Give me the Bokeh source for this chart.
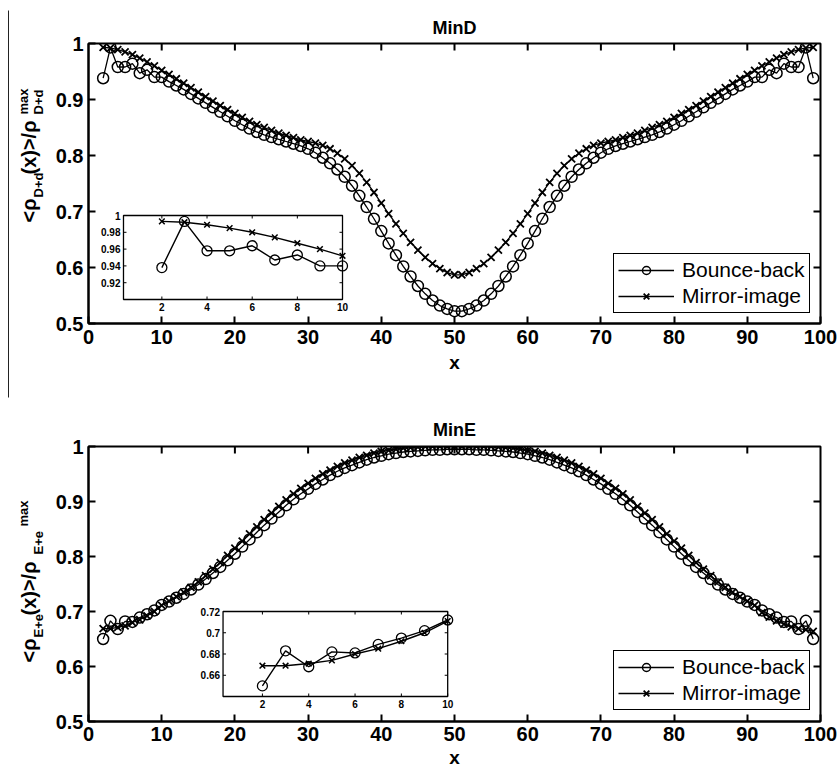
import math
from bokeh.plotting import figure
from bokeh.models import Range1d, FixedTicker
from bokeh.layouts import column, row
from bokeh.embed import file_html
from bokeh.resources import INLINE
from bokeh.core.properties import value

FONT = "Liberation Sans"

# ---------------- data ----------------
x_pos = list(range(2, 100))

mind_bounce = [
    0.938, 0.993, 0.958, 0.958, 0.964, 0.947, 0.953, 0.940, 0.940, 0.932,
    0.925, 0.918, 0.910, 0.902, 0.894, 0.886, 0.878, 0.870, 0.862, 0.855,
    0.848, 0.842, 0.837, 0.833, 0.829, 0.825, 0.821, 0.817, 0.812, 0.805,
    0.796, 0.786, 0.775, 0.762, 0.746, 0.728, 0.708, 0.687, 0.665, 0.643,
    0.622, 0.602, 0.584, 0.567, 0.553, 0.541, 0.532, 0.526, 0.522, 0.522,
    0.526, 0.532, 0.541, 0.553, 0.567, 0.584, 0.602, 0.622, 0.643, 0.665,
    0.687, 0.708, 0.728, 0.746, 0.762, 0.775, 0.786, 0.796, 0.805, 0.812,
    0.817, 0.821, 0.825, 0.829, 0.833, 0.837, 0.842, 0.848, 0.855, 0.862,
    0.870, 0.878, 0.886, 0.894, 0.902, 0.910, 0.918, 0.925, 0.932, 0.940,
    0.940, 0.953, 0.947, 0.964, 0.958, 0.958, 0.993, 0.938,
]
mind_mirror = [
    0.993, 0.992, 0.989, 0.985, 0.980, 0.974, 0.967, 0.960, 0.952, 0.945,
    0.937, 0.929, 0.921, 0.913, 0.905, 0.897, 0.889, 0.882, 0.875, 0.868,
    0.861, 0.855, 0.850, 0.845, 0.840, 0.836, 0.832, 0.828, 0.825, 0.822,
    0.818, 0.812, 0.804, 0.794, 0.782, 0.768, 0.752, 0.734, 0.715, 0.696,
    0.678, 0.661, 0.645, 0.631, 0.618, 0.607, 0.598, 0.591, 0.587, 0.587,
    0.591, 0.598, 0.607, 0.618, 0.631, 0.645, 0.661, 0.678, 0.696, 0.715,
    0.734, 0.752, 0.768, 0.782, 0.794, 0.804, 0.812, 0.818, 0.822, 0.825,
    0.828, 0.832, 0.836, 0.840, 0.845, 0.850, 0.855, 0.861, 0.868, 0.875,
    0.882, 0.889, 0.897, 0.905, 0.913, 0.921, 0.929, 0.937, 0.945, 0.952,
    0.960, 0.967, 0.974, 0.980, 0.985, 0.989, 0.992, 0.993,
]
mine_bounce = [
    0.650, 0.683, 0.668, 0.682, 0.681, 0.689, 0.695, 0.702, 0.712, 0.718,
    0.725, 0.732, 0.740, 0.749, 0.759, 0.770, 0.781, 0.793, 0.805, 0.818,
    0.831, 0.844, 0.857, 0.869, 0.881, 0.893, 0.904, 0.914, 0.923, 0.932,
    0.940, 0.948, 0.955, 0.961, 0.966, 0.971, 0.976, 0.980, 0.983, 0.986,
    0.988, 0.990, 0.991, 0.992, 0.993, 0.994, 0.994, 0.995, 0.995, 0.995,
    0.995, 0.994, 0.994, 0.993, 0.992, 0.991, 0.990, 0.988, 0.986, 0.983,
    0.980, 0.976, 0.971, 0.966, 0.961, 0.955, 0.948, 0.940, 0.932, 0.923,
    0.914, 0.904, 0.893, 0.881, 0.869, 0.857, 0.844, 0.831, 0.818, 0.805,
    0.793, 0.781, 0.770, 0.759, 0.749, 0.740, 0.732, 0.725, 0.718, 0.712,
    0.702, 0.695, 0.689, 0.681, 0.682, 0.668, 0.683, 0.650,
]
mine_mirror = [
    0.669, 0.669, 0.671, 0.674, 0.680, 0.685, 0.692, 0.700, 0.711, 0.719,
    0.727, 0.735, 0.744, 0.754, 0.765, 0.777, 0.789, 0.802, 0.815, 0.828,
    0.841, 0.854, 0.867, 0.879, 0.891, 0.903, 0.914, 0.924, 0.933, 0.942,
    0.950, 0.957, 0.964, 0.970, 0.975, 0.980, 0.984, 0.988, 0.991, 0.993,
    0.995, 0.997, 0.998, 0.999, 1.000, 1.000, 1.000, 1.000, 1.000, 1.000,
    1.000, 1.000, 1.000, 1.000, 0.999, 0.998, 0.997, 0.995, 0.993, 0.991,
    0.988, 0.984, 0.980, 0.975, 0.970, 0.964, 0.957, 0.950, 0.942, 0.933,
    0.924, 0.914, 0.903, 0.891, 0.879, 0.867, 0.854, 0.841, 0.828, 0.815,
    0.802, 0.789, 0.777, 0.765, 0.754, 0.744, 0.735, 0.727, 0.719, 0.711,
    0.698, 0.690, 0.683, 0.677, 0.672, 0.669, 0.667, 0.664,
]

inset_x = [2, 3, 4, 5, 6, 7, 8, 9, 10]
mind_inset_bounce = [0.938, 0.993, 0.958, 0.958, 0.964, 0.947, 0.953, 0.940, 0.940]
mind_inset_mirror = [0.993, 0.992, 0.989, 0.985, 0.980, 0.974, 0.967, 0.960, 0.952]
mine_inset_bounce = [0.650, 0.683, 0.668, 0.682, 0.681, 0.689, 0.695, 0.702, 0.712]
mine_inset_mirror = [0.669, 0.669, 0.671, 0.674, 0.680, 0.685, 0.692, 0.700, 0.711]

main_xticks = [0, 10, 20, 30, 40, 50, 60, 70, 80, 90, 100]
main_xlabels = ["0", "10", "20", "30", "40", "50", "60", "70", "80", "90", "100"]
main_yticks = [0.5, 0.6, 0.7, 0.8, 0.9, 1.0]
main_ylabels = ["0.5", "0.6", "0.7", "0.8", "0.9", "1"]

inset_xticks = [2, 4, 6, 8, 10]
inset_xlabels = ["2", "4", "6", "8", "10"]
mind_inset_yticks = [0.92, 0.94, 0.96, 0.98, 1.0]
mind_inset_ylabels = ["0.92", "0.94", "0.96", "0.98", "1"]
mine_inset_yticks = [0.66, 0.68, 0.70, 0.72]
mine_inset_ylabels = ["0.66", "0.68", "0.7", "0.72"]

series_names = ["Bounce-back", "Mirror-image"]
titles = ["MinD", "MinE"]
ylabel_subs = ["D+d", "E+e"]

GUTTER_W = 50
TOTAL_H = 771
PANEL_W = 838 - GUTTER_W
LEFT_B = 88 - GUTTER_W
FRAME_W = 732


def make_panel(title, bb, mm, ibb, imm, ixlim, iylim, iyticks, iylabels,
               ibox, H, top_b, bot_b, title_standoff, tick_standoff,
               xlab_standoff, legend_loc):
    p = figure(width=PANEL_W, height=H, output_backend="svg", toolbar_location=None,
               x_range=Range1d(0, 100), y_range=Range1d(0.5, 1.0),
               min_border_left=LEFT_B, min_border_right=PANEL_W - LEFT_B - FRAME_W,
               min_border_top=top_b, min_border_bottom=bot_b,
               background_fill_color="white", border_fill_color="white",
               title=title)
    p.title.align = "center"
    p.title.text_font = FONT
    p.title.text_font_size = "18px"
    p.title.text_font_style = "bold"
    p.title.text_color = "black"
    p.title.standoff = title_standoff

    p.grid.visible = False
    p.outline_line_color = "black"
    p.outline_line_width = 2
    p.outline_line_alpha = 1.0

    p.xaxis.ticker = FixedTicker(ticks=main_xticks)
    p.xaxis.major_label_overrides = dict(zip(main_xticks, main_xlabels))
    p.yaxis.ticker = FixedTicker(ticks=main_yticks)
    p.yaxis.major_label_overrides = dict(zip(main_yticks, main_ylabels))
    for ax in (p.xaxis[0], p.yaxis[0]):
        ax.major_tick_in = 7
        ax.major_tick_out = 0
        ax.minor_tick_line_color = None
        ax.axis_line_width = 2
        ax.major_tick_line_width = 2
        ax.major_label_text_font = FONT
        ax.major_label_text_font_size = "20px"
        ax.major_label_text_font_style = "bold"
        ax.major_label_text_color = "black"
    p.xaxis.major_label_standoff = tick_standoff
    p.yaxis.major_label_standoff = 5
    p.xaxis.axis_label = "x"
    p.xaxis.axis_label_text_font = FONT
    p.xaxis.axis_label_text_font_size = "19px"
    p.xaxis.axis_label_text_font_style = "bold"
    p.xaxis.axis_label_text_color = "black"
    p.xaxis.axis_label_standoff = xlab_standoff

    # ticks on top and right edges (box on)
    p.ray(x=main_xticks[1:-1], y=[p.y_range.end] * (len(main_xticks) - 2),
          length=7, length_units="screen", angle=-math.pi / 2,
          line_color="black", line_width=2)
    p.ray(x=[p.x_range.end] * (len(main_yticks) - 2), y=main_yticks[1:-1],
          length=7, length_units="screen", angle=math.pi,
          line_color="black", line_width=2)

    # main series
    p.line(x_pos, bb, line_color="black", line_width=1.3, legend_label=series_names[0])
    p.scatter(x_pos, bb, marker="circle", size=11, fill_color=None,
              line_color="black", line_width=1.5, legend_label=series_names[0])
    p.line(x_pos, mm, line_color="black", line_width=1.3, legend_label=series_names[1])
    p.scatter(x_pos, mm, marker="x", size=10, line_color="black",
              line_width=1.8, legend_label=series_names[1])

    leg = p.legend[0]
    leg.location = legend_loc
    leg.label_text_font = FONT
    leg.label_text_font_size = "21px"
    leg.label_text_color = "black"
    leg.glyph_width = 56
    leg.glyph_height = 20
    leg.label_height = 20
    leg.padding = 4
    leg.spacing = 2
    leg.margin = 0
    leg.label_standoff = 8
    leg.border_line_color = "black"
    leg.border_line_width = 1.8
    leg.border_line_alpha = 1.0
    leg.background_fill_alpha = 1.0

    # ---- inset (own ranges mapped onto a sub-rectangle of the frame) ----
    x0, x1 = ixlim
    y0, y1 = iylim
    fx0, fx1, fy0, fy1 = ibox
    sx = (x1 - x0) / (fx1 - fx0)
    sy = (y1 - y0) / (fy1 - fy0)
    xs = x0 - fx0 * sx
    ys = y0 - fy0 * sy
    p.extra_x_ranges = {"ix": Range1d(xs, xs + sx)}
    p.extra_y_ranges = {"iy": Range1d(ys, ys + sy)}
    kw = dict(x_range_name="ix", y_range_name="iy")

    p.quad(left=[x0], right=[x1], bottom=[y0], top=[y1], fill_color="white",
           line_color="black", line_width=1.3, **kw)
    n = len(inset_xticks)
    m = len(iyticks)
    p.ray(x=inset_xticks, y=[y0] * n, length=3, length_units="screen",
          angle=math.pi / 2, line_color="black", line_width=1, **kw)
    p.ray(x=inset_xticks, y=[y1] * n, length=3, length_units="screen",
          angle=-math.pi / 2, line_color="black", line_width=1, **kw)
    p.ray(x=[x0] * m, y=iyticks, length=3, length_units="screen",
          angle=0, line_color="black", line_width=1, **kw)
    p.ray(x=[x1] * m, y=iyticks, length=3, length_units="screen",
          angle=math.pi, line_color="black", line_width=1, **kw)

    p.line(inset_x, ibb, line_color="black", line_width=1.4, **kw)
    p.scatter(inset_x, ibb, marker="circle", size=10, fill_color=None,
              line_color="black", line_width=1.3, **kw)
    p.line(inset_x, imm, line_color="black", line_width=1.4, **kw)
    p.scatter(inset_x, imm, marker="x", size=8, line_color="black",
              line_width=1.5, **kw)

    p.text(x=inset_xticks, y=[y0] * n, text=inset_xlabels, text_align="center",
           text_baseline="top", y_offset=3, text_font=value(FONT),
           text_font_size="10px", text_font_style="bold", text_color="black", **kw)
    p.text(x=[x0] * m, y=iyticks, text=iylabels, text_align="right",
           text_baseline="middle", x_offset=-3, text_font=value(FONT),
           text_font_size="10px", text_font_style="bold", text_color="black", **kw)
    return p


H1 = 385
p1 = make_panel(titles[0], mind_bounce, mind_mirror,
                mind_inset_bounce, mind_inset_mirror,
                (0.3, 10.0), (0.9, 1.0), mind_inset_yticks, mind_inset_ylabels,
                (0.0478, 0.3470, 0.0857, 0.3857),
                H=H1, top_b=43, bot_b=H1 - 43 - 280,
                title_standoff=11, tick_standoff=6, xlab_standoff=5,
                legend_loc=(525, 10))

H2 = TOTAL_H - H1
p2 = make_panel(titles[1], mine_bounce, mine_mirror,
                mine_inset_bounce, mine_inset_mirror,
                (0.3, 10.0), (0.64, 0.72), mine_inset_yticks, mine_inset_ylabels,
                (0.1838, 0.4907, 0.0909, 0.4000),
                H=H2, top_b=446 - H1, bot_b=H2 - (446 - H1) - 275,
                title_standoff=14, tick_standoff=5, xlab_standoff=3,
                legend_loc=(525, 11))

# ---- left gutter holding the rotated y labels (with sub/superscripts) ----
g = figure(width=GUTTER_W, height=TOTAL_H, output_backend="svg",
           toolbar_location=None, x_range=Range1d(0, GUTTER_W),
           y_range=Range1d(0, TOTAL_H), min_border=0,
           x_axis_location=None, y_axis_location=None,
           background_fill_color="white", border_fill_color="white")
g.grid.visible = False
g.outline_line_color = None

# thin vertical rule at the left edge of the upper panel (as in the source)
g.segment(x0=[8], y0=[TOTAL_H - 10], x1=[8], y1=[TOTAL_H - 397],
          line_color="#222222", line_width=1)


def ylabel(sub, starts):
    # starts: page y (from top) where each piece begins (text reads upward)
    main_cx, sub_cx, sup_cx = 28, 38, 23
    pieces = [
        ("<ρ", "20px", main_cx, starts[0]),
        (sub, "13px", sub_cx, starts[1]),
        ("(x)>/ρ", "20px", main_cx, starts[2]),
        (sub, "13px", sub_cx, starts[3]),
        ("max", "13px", sup_cx, starts[4]),
    ]
    for txt, fs, cx, py in pieces:
        g.text(x=[cx], y=[TOTAL_H - py], text=[txt], angle=math.pi / 2,
               text_align="left", text_baseline="middle",
               text_font=value(FONT), text_font_size=fs,
               text_font_style="bold", text_color="black")


ylabel(ylabel_subs[0], (222, 197, 174, 114, 114))
ylabel(ylabel_subs[1], (662, 637, 615, 554, 526))

layout = row(g, column(p1, p2))
open("out.html", "w").write(file_html(layout, INLINE))
